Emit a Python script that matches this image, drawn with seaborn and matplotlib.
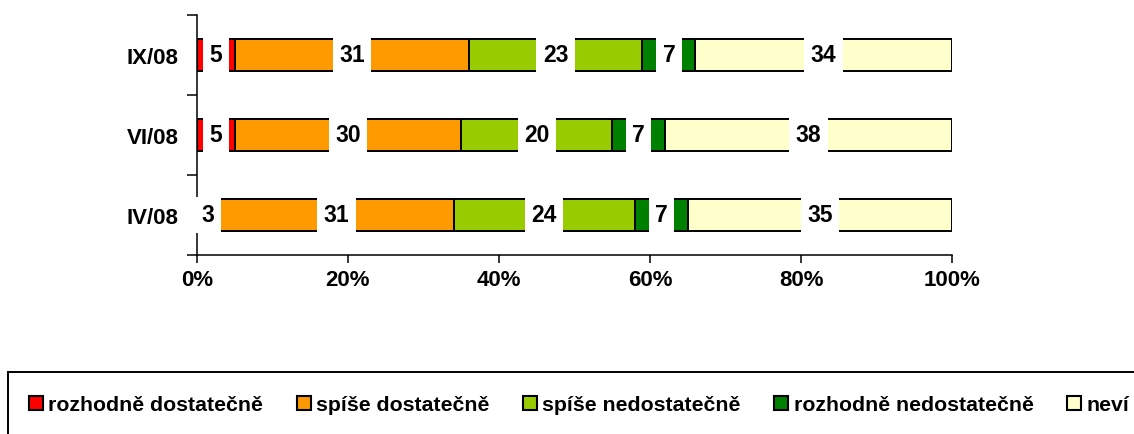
import pandas as pd
import matplotlib
matplotlib.use("Agg")
import matplotlib.pyplot as plt
from matplotlib.patches import Patch, Rectangle
import seaborn as sns

periods = ["IX/08", "VI/08", "IV/08"]
series = ["rozhodně dostatečně", "spíše dostatečně", "spíše nedostatečně",
          "rozhodně nedostatečně", "neví"]
rozhodne_dost = [5, 5, 3]
spise_dost = [31, 30, 31]
spise_nedost = [23, 20, 24]
rozhodne_nedost = [7, 7, 7]
nevi = [34, 38, 35]
colors = ["#FF0000", "#FF9900", "#99CC00", "#008000", "#FFFFCC"]

df = pd.DataFrame(dict(zip(series, [rozhodne_dost, spise_dost, spise_nedost,
                                    rozhodne_nedost, nevi])), index=periods)
cum = df.cumsum(axis=1)

sns.set_style("white")
plt.rcParams["font.family"] = ["Liberation Sans", "DejaVu Sans"]
plt.rcParams["font.weight"] = "bold"
plt.rcParams["text.color"] = "black"
plt.rcParams["xtick.color"] = "black"
plt.rcParams["ytick.color"] = "black"

W, H = 1134, 435
fig = plt.figure(figsize=(W / 100, H / 100), dpi=100)
ax = fig.add_axes([197 / W, 1 - 256 / H, 755 / W, 240 / H])

# stacked bars: draw cumulative totals, widest first
for s, c in reversed(list(zip(series, colors))):
    sns.barplot(x=cum[s].values, y=periods, color=c, saturation=1,
                edgecolor="black", linewidth=1.4, width=0.41, orient="h", ax=ax)

# value labels with white boxes
for i, p in enumerate(periods):
    for s in series:
        v = df.loc[p, s]
        mid = cum.loc[p, s] - v / 2
        ax.text(mid, i, str(v), ha="center", va="center", fontsize=16.5,
                fontweight="bold", color="black", zorder=5,
                bbox=dict(boxstyle="square,pad=0.28", fc="white", ec="none"))

ax.set_xlim(0, 100)
ax.set_ylim(2.5, -0.5)
ax.set_xticks(range(0, 101, 20))
ax.set_xticklabels([f"{t}%" for t in range(0, 101, 20)], fontsize=16, fontweight="bold")
ax.set_yticks([-0.5, 0.5, 1.5, 2.5])
ax.set_yticklabels([])
ax.set_yticks([0, 1, 2], minor=True)
ax.set_yticklabels(periods, minor=True, fontsize=16, fontweight="bold")
ax.tick_params(axis="y", which="minor", length=0, pad=13.5)
ax.tick_params(axis="y", which="major", left=True, length=7, width=1.1, color="black")
ax.tick_params(axis="x", bottom=True, length=6, width=1.1, color="black", pad=4)
ax.set_xlabel("")
ax.set_ylabel("")
sns.despine(ax=ax)
for sp in ["left", "bottom"]:
    ax.spines[sp].set_color("black")
    ax.spines[sp].set_linewidth(1.1)

handles = [Patch(fc=c, ec="black", lw=1.5) for c in colors]
fig.legend(handles, series, loc="center left", bbox_to_anchor=(29 / W, 29 / H),
           ncol=5, frameon=False, prop=dict(size=15.3, weight="bold"),
           handlelength=0.66, handleheight=0.66, handletextpad=0.25,
           columnspacing=1.58, borderaxespad=0, borderpad=0)
fig.add_artist(Rectangle((8 / W, -0.2), 1.2, 0.2 + 62 / H, transform=fig.transFigure,
                         fill=False, ec="black", lw=1.4, clip_on=False))

fig.savefig("out.png", dpi=100)
